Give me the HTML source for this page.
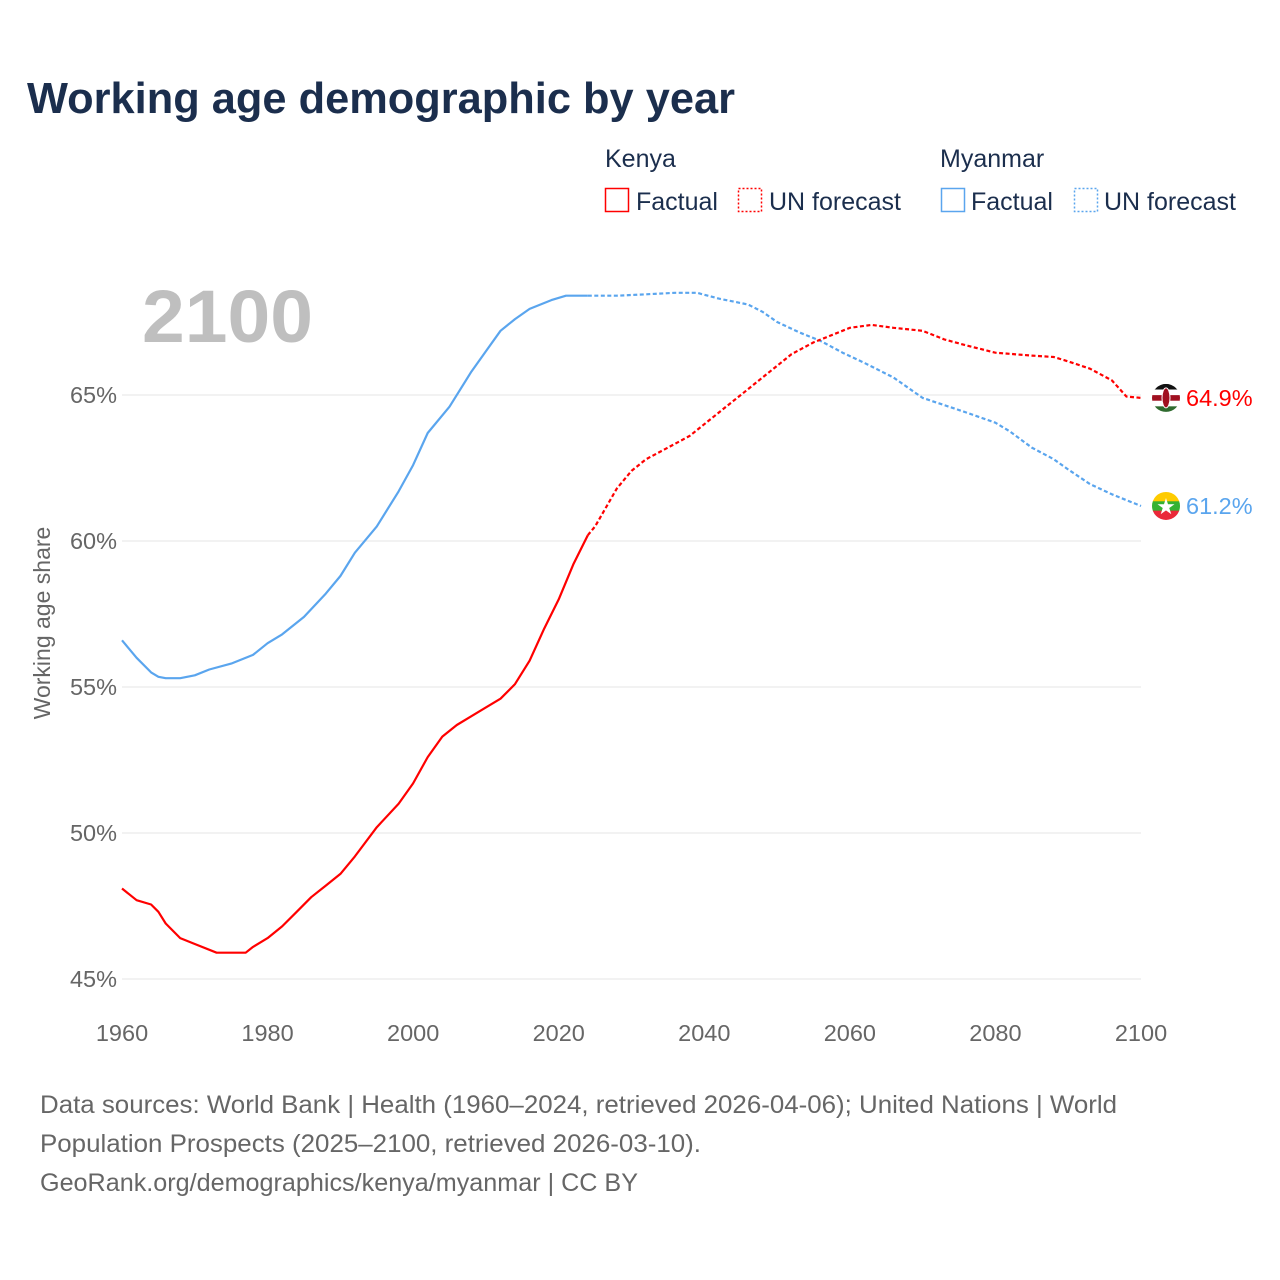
<!DOCTYPE html>
<html><head><meta charset="utf-8"><style>
body{margin:0;background:#fff;font-family:"Liberation Sans",sans-serif;}
#wrap{position:relative;width:1280px;height:1280px;overflow:hidden;}
</style></head><body>
<div id="wrap">
<svg id="chart" width="1280" height="1280" viewBox="0 0 1280 1280">
<text x="27" y="113" font-size="44" font-weight="bold" fill="#1b2e4d" textLength="708" lengthAdjust="spacingAndGlyphs">Working age demographic by year</text>
<g font-size="25" fill="#1b2e4d">
<text x="605" y="167">Kenya</text>
<rect x="605.5" y="188.5" width="23" height="23" fill="none" stroke="#f00" stroke-width="1.5"/>
<text x="636" y="210">Factual</text>
<rect x="738.5" y="188.5" width="23" height="23" fill="none" stroke="#f00" stroke-width="1.5" stroke-dasharray="2 2"/>
<text x="769" y="210">UN forecast</text>
<text x="940" y="167">Myanmar</text>
<rect x="941.5" y="188.5" width="23" height="23" fill="none" stroke="#5aa5ee" stroke-width="1.5"/>
<text x="971" y="210">Factual</text>
<rect x="1074.5" y="188.5" width="23" height="23" fill="none" stroke="#5aa5ee" stroke-width="1.5" stroke-dasharray="2 2"/>
<text x="1104" y="210">UN forecast</text>
</g>
<text x="142" y="342" font-size="74" font-weight="bold" fill="#bfbfbf" textLength="171" lengthAdjust="spacingAndGlyphs">2100</text>
<text transform="translate(50,623) rotate(-90)" text-anchor="middle" font-size="23" fill="#666">Working age share</text>
<g id="grid"></g><g id="series"></g><g id="labels"></g>
<g font-size="25" fill="#666">
<text x="40" y="1113" textLength="1077" lengthAdjust="spacingAndGlyphs">Data sources: World Bank | Health (1960–2024, retrieved 2026-04-06); United Nations | World</text>
<text x="40" y="1152" textLength="661" lengthAdjust="spacingAndGlyphs">Population Prospects (2025–2100, retrieved 2026-03-10).</text>
<text x="40" y="1191" textLength="598" lengthAdjust="spacingAndGlyphs">GeoRank.org/demographics/kenya/myanmar | CC BY</text>
</g>
</svg>
</div>
<script>
const xTicks=[1960,1980,2000,2020,2040,2060,2080,2100];
const yTicks=[45,50,55,60,65];
const kenyaYears=[1960,1962,1964,1965,1966,1968,1970,1973,1977,1978,1980,1982,1984,1986,1988,1990,1992,1995,1998,2000,2002,2004,2006,2008,2010,2012,2014,2016,2018,2020,2022,2024];
const kenyaValues=[48.1,47.7,47.55,47.3,46.9,46.4,46.2,45.9,45.9,46.1,46.4,46.8,47.3,47.8,48.2,48.6,49.2,50.2,51.0,51.7,52.6,53.3,53.7,54.0,54.3,54.6,55.1,55.9,57.0,58.0,59.2,60.2];
const kenyaFcYears=[2024,2025,2028,2030,2032,2035,2038,2040,2043,2046,2048,2050,2052,2055,2058,2060,2063,2066,2070,2073,2076,2080,2085,2088,2090,2093,2096,2098,2100];
const kenyaFcValues=[60.2,60.5,61.8,62.4,62.8,63.2,63.6,64.0,64.6,65.2,65.6,66.0,66.4,66.8,67.1,67.3,67.4,67.3,67.2,66.9,66.7,66.45,66.35,66.3,66.15,65.9,65.5,64.95,64.9];
const myanYears=[1960,1962,1964,1965,1966,1968,1970,1972,1975,1978,1980,1982,1985,1988,1990,1992,1995,1998,2000,2002,2005,2008,2010,2012,2014,2016,2019,2021,2024];
const myanValues=[56.6,56.0,55.5,55.35,55.3,55.3,55.4,55.6,55.8,56.1,56.5,56.8,57.4,58.2,58.8,59.6,60.5,61.7,62.6,63.7,64.6,65.8,66.5,67.2,67.6,67.95,68.25,68.4,68.4];
const myanFcYears=[2024,2028,2032,2036,2039,2042,2046,2048,2050,2053,2056,2059,2062,2066,2070,2073,2076,2080,2082,2085,2088,2090,2093,2096,2100];
const myanFcValues=[68.4,68.4,68.45,68.5,68.5,68.3,68.1,67.85,67.5,67.15,66.85,66.45,66.1,65.6,64.9,64.65,64.4,64.05,63.75,63.2,62.8,62.45,61.95,61.6,61.2];
const endLabels=["64.9%","61.2%"];

const X=y=>122+(y-1960)*(1019/140);
const Y=v=>395+(65-v)*29.2;
const NS="http://www.w3.org/2000/svg";
function mk(tag,parent){const e=document.createElementNS(NS,tag);parent.appendChild(e);return e;}
const grid=document.getElementById('grid'),series=document.getElementById('series'),labels=document.getElementById('labels');
yTicks.forEach(v=>{
 const l=mk('line',grid);l.setAttribute('x1',122);l.setAttribute('x2',1141);l.setAttribute('y1',Y(v));l.setAttribute('y2',Y(v));l.setAttribute('stroke','#e6e6e6');
 
 
 const t=mk('text',grid);t.setAttribute('x',117);t.setAttribute('y',Y(v)+8);t.setAttribute('text-anchor','end');t.setAttribute('font-size','23.5');t.setAttribute('fill','#666');t.textContent=v+'%';
 
 
});
xTicks.forEach(y=>{
 const t=mk('text',grid);t.setAttribute('x',X(y));t.setAttribute('y',1041);t.setAttribute('text-anchor','middle');t.setAttribute('font-size','23.5');t.setAttribute('fill','#666');t.textContent=y;
 
 
});
function line(xs,vs,color,dash,name){
 const p=mk('path',series);p.setAttribute('d',xs.map((x,i)=>(i?'L':'M')+X(x).toFixed(1)+','+Y(vs[i]).toFixed(1)).join(''));
 p.setAttribute('fill','none');p.setAttribute('stroke',color);p.setAttribute('stroke-width','2.2');p.setAttribute('stroke-linejoin','round');
 if(dash)p.setAttribute('stroke-dasharray','4 2.5');
 
 
}
line(myanYears,myanValues,'#5aa5ee',false,'myanmar-factual-line');
line(myanFcYears,myanFcValues,'#5aa5ee',true,'myanmar-forecast-line');
line(kenyaYears,kenyaValues,'#f00',false,'kenya-factual-line');
line(kenyaFcYears,kenyaFcValues,'#f00',true,'kenya-forecast-line');
const ky=Y(kenyaFcValues[kenyaFcValues.length-1]),my=Y(myanFcValues[myanFcValues.length-1]),fx=1166;
function flag(cy,bands,name){
 const g=mk('g',labels);
 
 
 const cp=mk('clipPath',g);cp.id=name+'-clip';const c=mk('circle',cp);c.setAttribute('cx',fx);c.setAttribute('cy',cy);c.setAttribute('r',14);
 const h=28/bands.length;
 bands.forEach((b,i)=>{const r=mk('rect',g);r.setAttribute('x',fx-14);r.setAttribute('y',cy-14+i*h);r.setAttribute('width',28);r.setAttribute('height',h+0.5);r.setAttribute('fill',b);r.setAttribute('clip-path','url(#'+name+'-clip)');});
 return g;
}
const kg=flag(ky,['#111','#fff','#a01020','#fff','#2f6b2f'],'kenya-flag');
const sh=mk('ellipse',kg);sh.setAttribute('cx',fx);sh.setAttribute('cy',ky);sh.setAttribute('rx',4);sh.setAttribute('ry',10);sh.setAttribute('fill','#a01020');sh.setAttribute('stroke','#fff');
const mg=flag(my,['#fecb00','#34b233','#ea2839'],'myanmar-flag');
const st=mk('text',mg);st.setAttribute('x',fx);st.setAttribute('y',my+8);st.setAttribute('text-anchor','middle');st.setAttribute('font-size','22');st.setAttribute('fill','#fff');st.textContent='★';
[[ky,'#f00',endLabels[0],'kenya-end-label'],[my,'#5aa5ee',endLabels[1],'myanmar-end-label']].forEach(a=>{
 const t=mk('text',labels);t.setAttribute('x',1186);t.setAttribute('y',a[0]+8);t.setAttribute('font-size','23.5');t.setAttribute('fill',a[1]);t.textContent=a[2];
 
 
});
</script>
</body></html>
